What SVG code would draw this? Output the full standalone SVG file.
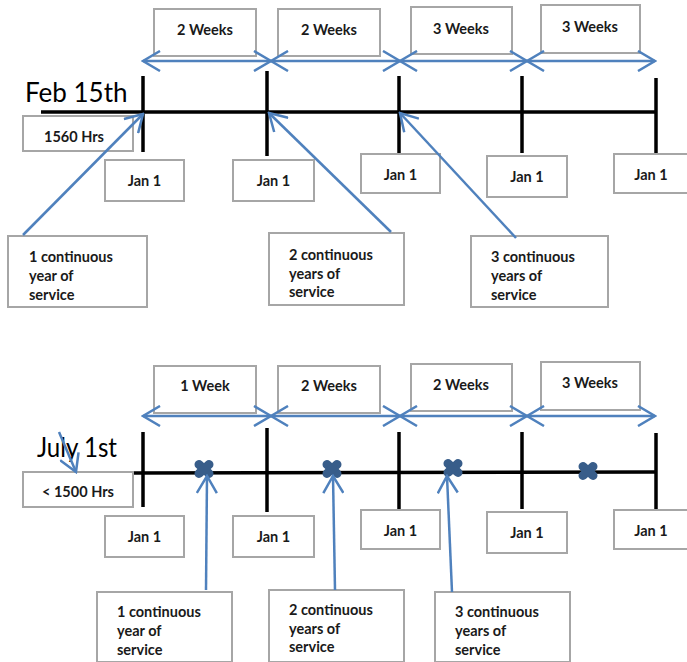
<svg xmlns="http://www.w3.org/2000/svg" width="687" height="662" viewBox="0 0 687 662">
<style>
.box{fill:#fff;stroke:#a6a6a6;stroke-width:2}
.t{font-family:Lato,"Liberation Sans",sans-serif;font-size:14.5px;font-weight:bold;fill:#1a1a1a}
.c{text-anchor:middle}
.big{font-family:Lato,"Liberation Sans",sans-serif;font-size:26px;fill:#000}
.tl{stroke:#000;stroke-width:3.5;fill:none}
.bl{stroke:#4F81BD;stroke-width:2.5;fill:none}
.ar{marker-end:url(#ah)}
.dbl{marker-start:url(#ah);marker-end:url(#ah)}
.x{stroke:#385D8A;stroke-width:9;stroke-linecap:round}
</style>
<defs>
<marker id="ah" viewBox="0 0 20 22" refX="18" refY="11" markerWidth="20" markerHeight="22" markerUnits="userSpaceOnUse" orient="auto-start-reverse">
<path d="M1,1 L18,11 L1,21" fill="none" stroke="#4F81BD" stroke-width="2.5"/>
</marker>
</defs>

<!-- TOP TIMELINE -->
<g id="timeline-top">
<line class="tl" x1="41" y1="112" x2="656" y2="112"/>
<line class="tl" x1="143" y1="76" x2="143" y2="152"/>
<line class="tl" x1="267" y1="71" x2="267" y2="156"/>
<line class="tl" x1="399" y1="76" x2="399" y2="153"/>
<line class="tl" x1="522" y1="76" x2="522" y2="153"/>
<line class="tl" x1="656" y1="78" x2="656" y2="153"/>
</g>
<text id="label-feb" class="big" x="25" y="102">Feb 15th</text>
<g id="hrs-top"><rect class="box" x="23" y="116" width="110" height="35"/><text class="t c" x="74" y="142">1560 Hrs</text></g>

<g id="wk-top-1"><rect class="box" x="154" y="9" width="102" height="47"/><text class="t c" x="205" y="35">2 Weeks</text></g>
<g id="wk-top-2"><rect class="box" x="278" y="9" width="102" height="47"/><text class="t c" x="329" y="35">2 Weeks</text></g>
<g id="wk-top-3"><rect class="box" x="411" y="7" width="101" height="47"/><text class="t c" x="461" y="34">3 Weeks</text></g>
<g id="wk-top-4"><rect class="box" x="541" y="5" width="99" height="48"/><text class="t c" x="590" y="32">3 Weeks</text></g>

<g id="jan-top-1"><rect class="box" x="105" y="160" width="79" height="41"/><text class="t c" x="144.5" y="186">Jan 1</text></g>
<g id="jan-top-2"><rect class="box" x="233" y="160" width="81" height="41"/><text class="t c" x="273.5" y="186">Jan 1</text></g>
<g id="jan-top-3"><rect class="box" x="361" y="154" width="79" height="39"/><text class="t c" x="400.5" y="180">Jan 1</text></g>
<g id="jan-top-4"><rect class="box" x="487" y="156" width="80" height="41"/><text class="t c" x="527" y="182">Jan 1</text></g>
<g id="jan-top-5"><rect class="box" x="614" y="154" width="76" height="39"/><text class="t c" x="651" y="180">Jan 1</text></g>

<g id="svc-top-1"><rect class="box" x="8" y="236" width="139" height="71"/><text class="t" x="29" y="262">1 continuous</text><text class="t" x="29" y="281">year of</text><text class="t" x="29" y="300">service</text></g>
<g id="svc-top-2"><rect class="box" x="269" y="233" width="135" height="72"/><text class="t" x="289" y="260">2 continuous</text><text class="t" x="289" y="279">years of</text><text class="t" x="289" y="297">service</text></g>
<g id="svc-top-3"><rect class="box" x="471" y="236" width="137" height="71"/><text class="t" x="491" y="262">3 continuous</text><text class="t" x="491" y="281">years of</text><text class="t" x="491" y="300">service</text></g>

<!-- BOTTOM TIMELINE -->
<g id="timeline-bottom">
<line class="tl" x1="133" y1="473" x2="656" y2="472"/>
<line class="tl" x1="143" y1="432" x2="143" y2="507"/>
<line class="tl" x1="267" y1="428" x2="267" y2="512"/>
<line class="tl" x1="399" y1="432" x2="399" y2="509"/>
<line class="tl" x1="522" y1="432" x2="522" y2="509"/>
<line class="tl" x1="656" y1="433" x2="656" y2="509"/>
</g>
<text id="label-july" class="big" x="37" y="457" textLength="80" lengthAdjust="spacingAndGlyphs">July 1st</text>
<g id="hrs-bottom"><rect class="box" x="23" y="472" width="110" height="35"/><text class="t c" x="78" y="497">&lt; 1500 Hrs</text></g>

<g id="marks">
<g class="x" transform="translate(204,469)"><line x1="-5" y1="-4.5" x2="5" y2="4.5"/><line x1="-5" y1="4.5" x2="5" y2="-4.5"/></g>
<g class="x" transform="translate(332,469)"><line x1="-5" y1="-4.5" x2="5" y2="4.5"/><line x1="-5" y1="4.5" x2="5" y2="-4.5"/></g>
<g class="x" transform="translate(453,468)"><line x1="-5" y1="-4.5" x2="5" y2="4.5"/><line x1="-5" y1="4.5" x2="5" y2="-4.5"/></g>
<g class="x" transform="translate(588,471)"><line x1="-5" y1="-4.5" x2="5" y2="4.5"/><line x1="-5" y1="4.5" x2="5" y2="-4.5"/></g>
</g>

<g id="wk-bot-1"><rect class="box" x="154" y="366" width="102" height="47"/><text class="t c" x="205" y="391">1 Week</text></g>
<g id="wk-bot-2"><rect class="box" x="278" y="366" width="102" height="47"/><text class="t c" x="329" y="391">2 Weeks</text></g>
<g id="wk-bot-3"><rect class="box" x="411" y="364" width="101" height="47"/><text class="t c" x="461" y="390">2 Weeks</text></g>
<g id="wk-bot-4"><rect class="box" x="541" y="362" width="99" height="48"/><text class="t c" x="590" y="388">3 Weeks</text></g>

<g id="jan-bot-1"><rect class="box" x="105" y="516" width="79" height="41"/><text class="t c" x="144.5" y="542">Jan 1</text></g>
<g id="jan-bot-2"><rect class="box" x="233" y="516" width="81" height="41"/><text class="t c" x="273.5" y="542">Jan 1</text></g>
<g id="jan-bot-3"><rect class="box" x="361" y="510" width="79" height="39"/><text class="t c" x="400.5" y="536">Jan 1</text></g>
<g id="jan-bot-4"><rect class="box" x="487" y="512" width="80" height="41"/><text class="t c" x="527" y="538">Jan 1</text></g>
<g id="jan-bot-5"><rect class="box" x="614" y="510" width="76" height="39"/><text class="t c" x="651" y="536">Jan 1</text></g>

<g id="svc-bot-1"><rect class="box" x="97" y="592" width="135" height="70"/><text class="t" x="117" y="617">1 continuous</text><text class="t" x="117" y="636">year of</text><text class="t" x="117" y="655">service</text></g>
<g id="svc-bot-2"><rect class="box" x="269" y="590" width="135" height="72"/><text class="t" x="289" y="615">2 continuous</text><text class="t" x="289" y="634">years of</text><text class="t" x="289" y="652">service</text></g>
<g id="svc-bot-3"><rect class="box" x="435" y="592" width="135" height="70"/><text class="t" x="455" y="617">3 continuous</text><text class="t" x="455" y="636">years of</text><text class="t" x="455" y="655">service</text></g>

<!-- CONNECTORS -->
<g id="connectors">
<line class="bl dbl" x1="143" y1="61" x2="271" y2="61"/>
<line class="bl dbl" x1="271" y1="61" x2="400" y2="61"/>
<line class="bl dbl" x1="400" y1="61" x2="527" y2="61"/>
<line class="bl dbl" x1="527" y1="61" x2="655" y2="61"/>
<line class="bl ar" x1="23" y1="235" x2="143" y2="114"/>
<line class="bl ar" x1="391" y1="232" x2="269" y2="113"/>
<line class="bl ar" x1="516" y1="238" x2="400" y2="113"/>

<line class="bl dbl" x1="143" y1="416" x2="271" y2="416"/>
<line class="bl dbl" x1="271" y1="416" x2="400" y2="416"/>
<line class="bl dbl" x1="400" y1="416" x2="527" y2="416"/>
<line class="bl dbl" x1="527" y1="416" x2="655" y2="416"/>
<line class="bl ar" x1="59" y1="432" x2="76" y2="472"/>
<line class="bl ar" x1="206" y1="590" x2="207" y2="476"/>
<line class="bl ar" x1="335" y1="590" x2="333" y2="476"/>
<line class="bl ar" x1="452" y1="592" x2="447" y2="476"/>
</g>
</svg>
